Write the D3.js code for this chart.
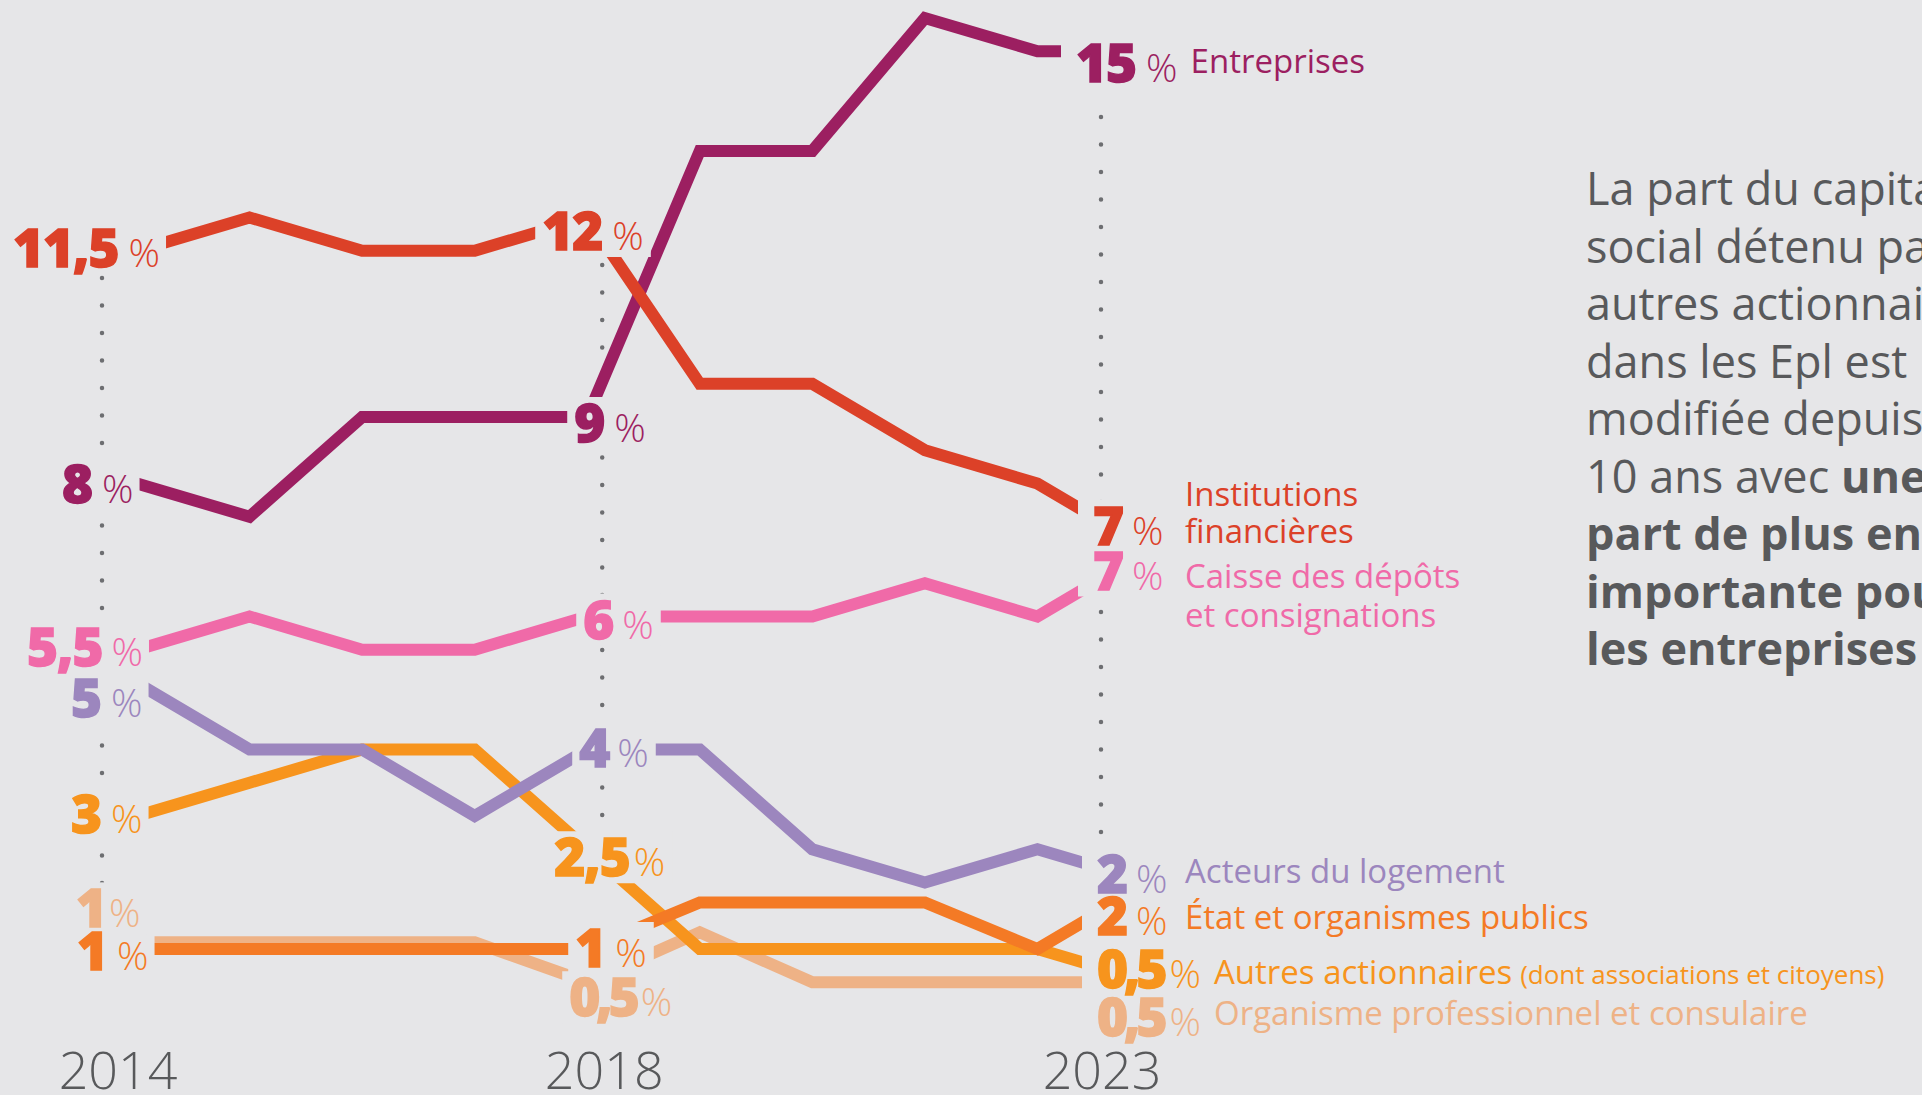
<!DOCTYPE html>
<html>
<head>
<meta charset="utf-8">
<script src="https://cdn.jsdelivr.net/npm/d3@7"></script>
<style>
  html, body { margin: 0; padding: 0; background: #e6e6e8; overflow: hidden; }
  svg { display: block; }
</style>
</head>
<body>
<div id="chart"></div>
<script>
// --- data (parts of capital social, %) ---
let years = [2014, 2015, 2016, 2017, 2018, 2019, 2020, 2021, 2022, 2023];
let entreprises  = [8, 7.5, 9, 9, 9, 13, 13, 15, 14.5, 14.5];
let institutions = [11.5, 12, 11.5, 11.5, 12, 9.5, 9.5, 8.5, 8, 7];
let caisse       = [5.5, 6, 5.5, 5.5, 6, 6, 6, 6.5, 6, 7];
let logement     = [5, 4, 4, 3, 4, 4, 2.5, 2, 2.5, 2];
let etat         = [1, 1, 1, 1, 1, 1.7, 1.7, 1.7, 1, 2];
let autres       = [3, 3.5, 4, 4, 2.5, 1, 1, 1, 1, 0.5];
let organisme    = [1.1, 1.1, 1.1, 1.1, 0.5, 1.25, 0.5, 0.5, 0.5, 0.5];

// order: entreprises, institutions, caisse, logement, etat, autres, organisme
let seriesValues = [entreprises, institutions, caisse, logement, etat, autres, organisme];
let seriesColors = ['#9c1f61', '#dc4128', '#f06aa8', '#9c86be', '#f47a25', '#f7941d', '#eeb286'];
let seriesNames = [
    ['Entreprises'],
    ['Institutions', 'financières'],
    ['Caisse des dépôts', 'et consignations'],
    ['Acteurs du logement'],
    ['État et organismes publics'],
    ['Autres actionnaires'],
    ['Organisme professionnel et consulaire']
];
let nameNote = ['', '', '', '', '', '(dont associations et citoyens)', ''];
let labelYears = [2014, 2018, 2023];
let labels = {
    2014: ['8', '11,5', '5,5', '5', '1', '3', '1'],
    2018: ['9', '12', '6', '4', '1', '2,5', '0,5'],
    2023: ['15', '7', '7', '2', '2', '0,5', '0,5']
};
let drawOrder = [6, 5, 3, 4, 2, 0, 1];

let textLines = [
    [['La part du capital', false]],
    [['social détenu par les', false]],
    [['autres actionnaires', false]],
    [['dans les Epl est', false]],
    [['modifiée depuis', false]],
    [['10 ans avec ', false], ['une', true]],
    [['part de plus en plus', true]],
    [['importante pour', true]],
    [['les entreprises', true]]
];

// --- label placement (offsets from the data point) ---
let place = {
    2014: {dx: [-75, -124, -110, -66, -60, -66, -61], dy: [0, -3, -3, 15, 2, -2, -34], gap: [10, 10, 9, 10, 10, 10, 3], padL: 7, padR: 6},
    2018: {dx: [-13, -45, -4, -8, -12, -33, -18], dy: [6, 13.5, 3, -2, -1, 8, 15], gap: [10, 10, 9, 8, 10, 4, 5], padL: 7, padR: 7},
    2023: {dx: [-74, -57, -57, -53, -53, -53, -53], dy: [12, -24.5, 20.5, -8.5, 33.5, -13, 35], gap: [10, 9, 9, 9, 9, 6, 6], padL: 15, padR: 7}
};
let nameDy = [[10], [-19.5, 17.5], [17.5, 56.5], [9], [13], [14.5], [8]];
let guides = [
    {year: 2014, off: -35, y0: 278, y1: 885, labelOff: 16},
    {year: 2018, off: 15, y0: 265, y1: 890, labelOff: 2},
    {year: 2023, off: -49, y0: 117, y1: 860, labelOff: 1}
];

let W = 1922, H = 1095;
let bg = '#e6e6e8', grey = '#58595b';
let font = '"Open Sans", "DejaVu Sans", sans-serif';

let svg = d3.select('#chart').append('svg')
    .attr('width', W).attr('height', H);
svg.append('rect').attr('width', W).attr('height', H).attr('fill', bg);

let x = d3.scaleLinear().domain([2014, 2023]).range([137, 1150]);
let y = d3.scaleLinear().domain([0, 15]).range([1015.5, 18]);

// dotted guides
svg.selectAll('.guide')
    .data(guides)
    .enter().append('line')
    .attr('class', 'guide')
    .attr('x1', d => x(d.year) + d.off).attr('x2', d => x(d.year) + d.off)
    .attr('y1', d => d.y0).attr('y2', d => d.y1)
    .attr('stroke', '#6d6e71')
    .attr('stroke-width', 4.5)
    .attr('stroke-linecap', 'round')
    .attr('stroke-dasharray', '0 27.5');

// lines
let line = d3.line()
    .x((d, i) => x(years[i]))
    .y(d => y(d));

svg.selectAll('.serie')
    .data(drawOrder)
    .enter().append('path')
    .attr('class', 'serie')
    .attr('d', k => line(seriesValues[k]))
    .attr('fill', 'none')
    .attr('stroke', k => seriesColors[k])
    .attr('stroke-width', 12)
    .attr('stroke-linejoin', 'miter')
    .attr('stroke-linecap', 'butt');

// value labels, with a knockout box that cuts the lines under them
let knock = svg.append('g');
let texts = svg.append('g');
let pctRight = [];

labelYears.forEach(yr => {
    let p = place[yr];
    let idx = years.indexOf(yr);
    labels[yr].forEach((lab, k) => {
        let cx = x(yr) + p.dx[k];
        let cy = y(seriesValues[k][idx]) + p.dy[k];
        let t = texts.append('text')
            .attr('x', cx)
            .attr('y', cy + 19)
            .attr('fill', seriesColors[k])
            .style('font-family', font);
        t.append('tspan')
            .text(lab)
            .attr('stroke', seriesColors[k])
            .attr('stroke-width', 1.4)
            .style('font-size', '53px')
            .style('font-weight', 800)
            .style('letter-spacing', lab.length == 3 && lab[0] == '0' ? '-4px' : '-1px');
        t.append('tspan')
            .attr('dx', p.gap[k])
            .text('%')
            .style('font-size', '39px')
            .style('font-weight', 300);
        let bb = t.node().getBBox();
        knock.append('rect')
            .attr('x', bb.x - p.padL)
            .attr('y', cy - 19 - 7)
            .attr('width', bb.width + p.padL + p.padR)
            .attr('height', 38 + 14)
            .attr('fill', bg);
        if (yr == 2023) pctRight[k] = bb.x + bb.width;
    });
});

// series names on the right
seriesNames.forEach((lines, k) => {
    let cy = y(seriesValues[k][years.length - 1]) + place[2023].dy[k];
    let nx = Math.max(x(2023) + 35, pctRight[k] + 13);
    lines.forEach((s, j) => {
        let t = texts.append('text')
            .attr('x', nx)
            .attr('y', cy + nameDy[k][j])
            .attr('fill', seriesColors[k])
            .style('font-family', font)
            .style('font-size', '33px')
            .text(s);
        if (nameNote[k] && j == lines.length - 1) {
            t.append('tspan')
                .attr('dx', 8)
                .style('font-size', '26px')
                .text(nameNote[k]);
        }
    });
});

// year labels
svg.selectAll('.year')
    .data(guides)
    .enter().append('text')
    .attr('class', 'year')
    .attr('x', d => x(d.year) + d.off + d.labelOff)
    .attr('y', 1089)
    .attr('text-anchor', 'middle')
    .attr('fill', grey)
    .style('font-family', font)
    .style('font-size', '52px')
    .style('font-weight', 300)
    .text(d => d.year);

// commentary text
let para = svg.append('text')
    .attr('fill', grey)
    .style('font-family', font)
    .style('font-size', '45px');
textLines.forEach((parts, i) => {
    parts.forEach((part, j) => {
        let ts = para.append('tspan')
            .text(part[0])
            .style('font-weight', part[1] ? 700 : 400);
        if (j == 0) ts.attr('x', 1586).attr('y', 205 + i * 57.5);
    });
});
</script>
</body>
</html>
